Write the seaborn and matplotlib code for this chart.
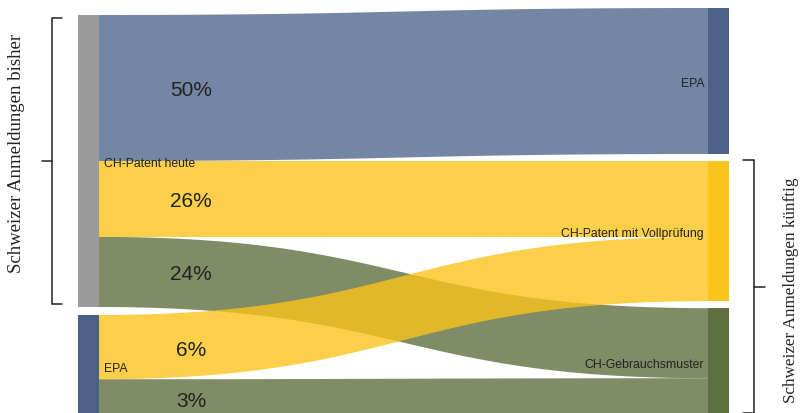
import matplotlib
matplotlib.use("Agg")
import matplotlib.pyplot as plt
import seaborn as sns
import numpy as np

# Source and target nodes of the Sankey diagram
sources = ["CH-Patent heute", "EPA"]
targets = ["EPA", "CH-Patent mit Vollprüfung", "CH-Gebrauchsmuster"]

# Flows: source, target, drawn size, label
flow_source = ["CH-Patent heute", "CH-Patent heute", "CH-Patent heute", "EPA", "EPA"]
flow_target = ["EPA", "CH-Patent mit Vollprüfung", "CH-Gebrauchsmuster",
               "CH-Patent mit Vollprüfung", "CH-Gebrauchsmuster"]
flow_size = [50, 26, 24, 22, 13]
flow_label = ["50%", "26%", "24%", "6%", "3%"]

source_colors = {"CH-Patent heute": "#9b9b9b", "EPA": "#4b6086"}
target_colors = {"EPA": "#4c6185", "CH-Patent mit Vollprüfung": "#fbc41c",
                 "CH-Gebrauchsmuster": "#5e6f41"}
flow_colors = {"EPA": ("#7386a3", 1.0),
               "CH-Patent mit Vollprüfung": ("#fcc41d", 0.8),
               "CH-Gebrauchsmuster": ("#7f8c65", 1.0)}

sns.set_theme(style="white")
plt.rcParams["font.family"] = ["Liberation Sans", "DejaVu Sans"]

W, H = 801, 413
fig = plt.figure(figsize=(W / 100, H / 100), dpi=100)
ax = fig.add_axes([0, 0, 1, 1])
ax.set_xlim(0, W)
ax.set_ylim(H, 0)
ax.axis("off")

scale = 2.92          # px per unit
left_x0, left_x1 = 78, 99
right_x0, right_x1 = 708, 729


def stack(nodes, top, gap):
    pos = {}
    y = top
    for n in nodes:
        size = sum(s for s, a, b in zip(flow_size, flow_source, flow_target)
                   if (a == n if nodes is sources else b == n))
        pos[n] = [y, y + size * scale]
        y += size * scale + gap
    return pos


src_pos = stack(sources, 15, 8)
tgt_pos = stack(targets, 8, 7)

# nodes
for n in sources:
    y0, y1 = src_pos[n]
    ax.add_patch(plt.Rectangle((left_x0, y0), left_x1 - left_x0, y1 - y0,
                               color=source_colors[n], lw=0, zorder=3))
    ax.text(left_x1 + 5, (y0 + y1) / 2 + 3, n, fontsize=8.8, color="#222222",
            ha="left", va="center", zorder=5)
for n in targets:
    y0, y1 = tgt_pos[n]
    ax.add_patch(plt.Rectangle((right_x0, y0), right_x1 - right_x0, y1 - y0,
                               color=target_colors[n], lw=0, zorder=3))
    ax.text(right_x0 - 4, (y0 + y1) / 2 + 3, n, fontsize=8.8, color="#222222",
            ha="right", va="center", zorder=5)

# flows as cubic bezier bands
t = np.linspace(0, 1, 200)
xm = (left_x1 + right_x0) / 2


def bez(y0, y1):
    x = (1 - t) ** 3 * left_x1 + 3 * (1 - t) ** 2 * t * xm + 3 * (1 - t) * t ** 2 * xm + t ** 3 * right_x0
    y = y0 + (y1 - y0) * (3 * t ** 2 - 2 * t ** 3)
    return x, y


src_off = {n: src_pos[n][0] for n in sources}
tgt_off = {n: tgt_pos[n][0] for n in targets}
bands = []
for s, g, size, lab in zip(flow_source, flow_target, flow_size, flow_label):
    h = size * scale
    ys, yt = src_off[s], tgt_off[g]
    src_off[s] += h
    tgt_off[g] += h
    bands.append((s, g, ys, yt, h, lab))

order = {"EPA": 0, "CH-Gebrauchsmuster": 1, "CH-Patent mit Vollprüfung": 2}
for s, g, ys, yt, h, lab in sorted(bands, key=lambda b: order[b[1]]):
    xt, ytop = bez(ys, yt)
    xb, ybot = bez(ys + h, yt + h)
    col, alpha = flow_colors[g]
    ax.fill(np.concatenate([xt, xb[::-1]]), np.concatenate([ytop, ybot[::-1]]),
            color=col, alpha=alpha, lw=0, zorder=1 + order[g] * 0.1)
    # label near the source side of the band
    ax.text(191, ys + h / 2 + 3, lab, fontsize=15, color="#222222",
            ha="center", va="center", zorder=6)

# brackets
def bracket(x, y0, y1, side):
    d = 10 if side == "left" else -11
    ax.plot([x + d, x, x, x + d], [y0, y0, y1, y1], color="#222222", lw=1.1,
            solid_joinstyle="miter", zorder=4)
    ym = (y0 + y1) / 2
    ax.plot([x, x - d], [ym, ym], color="#222222", lw=1.1, zorder=4)
    return ym


ym = bracket(52, src_pos["CH-Patent heute"][0] + 3, src_pos["CH-Patent heute"][1] - 3, "left")
ax.text(17, ym - 8, "Schweizer Anmeldungen bisher", rotation=90, fontsize=13.5,
        family=["Liberation Serif", "DejaVu Serif"], color="#222222",
        ha="center", va="center")
ym = bracket(754, tgt_pos["CH-Patent mit Vollprüfung"][0] - 1,
             tgt_pos["CH-Gebrauchsmuster"][1] - 3, "right")
ax.text(791, ym + 4, "Schweizer Anmeldungen künftig", rotation=90, fontsize=12.3,
        family=["Liberation Serif", "DejaVu Serif"], color="#222222",
        ha="center", va="center")

fig.savefig("out.png", dpi=100)
